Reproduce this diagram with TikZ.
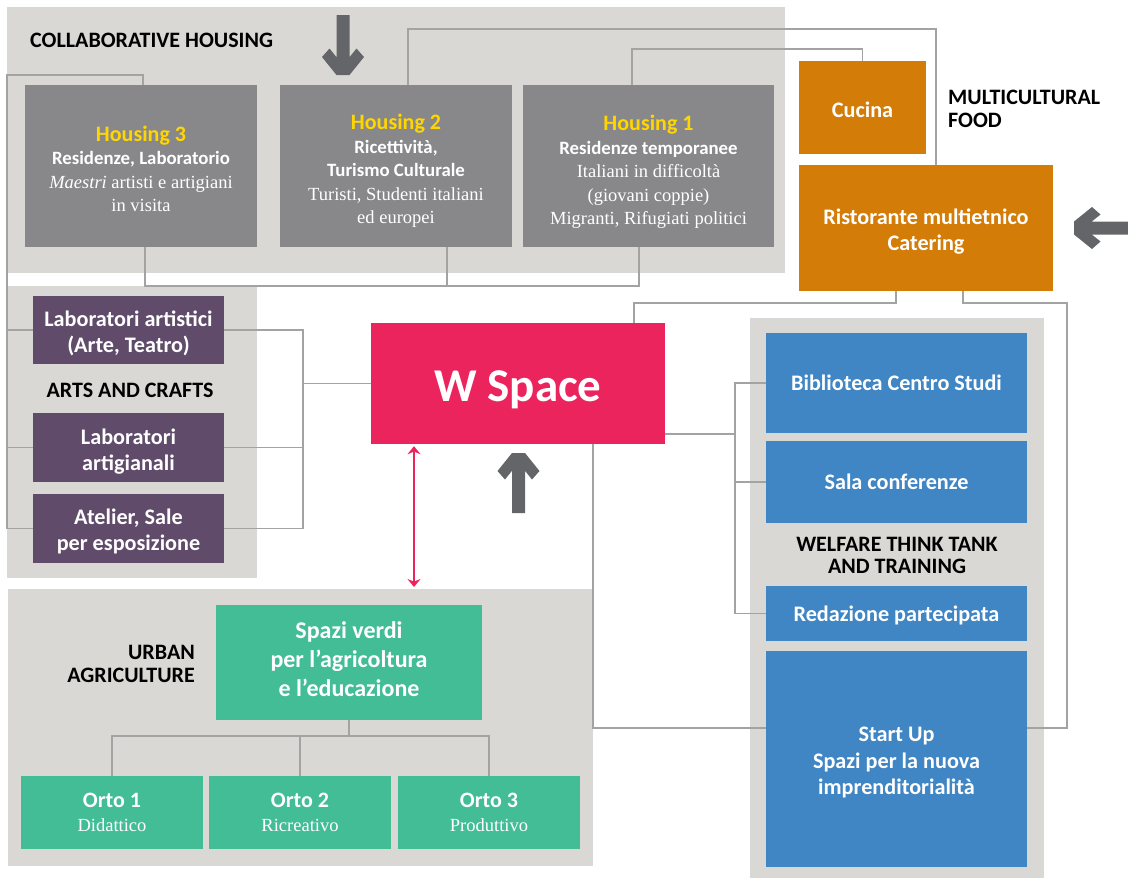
\documentclass[tikz,border=0pt]{standalone}
\usepackage{fontspec}
\setmainfont{Liberation Serif}
\setsansfont{Carlito}
\usetikzlibrary{arrows.meta, positioning}

\definecolor{panelgray}{RGB}{217,216,212}
\definecolor{hgray}{RGB}{136,136,138}
\definecolor{hyellow}{RGB}{255,214,0}
\definecolor{foodorange}{RGB}{211,124,7}
\definecolor{wpink}{RGB}{236,36,94}
\definecolor{artpurple}{RGB}{96,76,106}
\definecolor{thinkblue}{RGB}{64,134,196}
\definecolor{agrgreen}{RGB}{66,189,149}
\definecolor{arrowgray}{RGB}{100,101,105}
\definecolor{linegray}{RGB}{163,163,163}

\newcommand{\hhead}[1]{{\sffamily\bfseries\fontsize{22}{23.5}\selectfont\color{hyellow}#1}}
\newcommand{\hbold}[1]{{\sffamily\bfseries\fontsize{18.8}{23.5}\selectfont #1}}

\begin{document}
\begin{tikzpicture}[x=1pt, y=-1pt,
	box/.style={rectangle, inner sep=0pt, text=white, align=center, text depth=0pt},
	lbl/.style={font=\sffamily\bfseries\fontsize{22.2}{26}\selectfont},
	serif/.style={font=\fontsize{18.5}{23.5}\selectfont},
	heading/.style={font=\sffamily\bfseries\fontsize{22}{22.5}\selectfont, inner sep=0pt, align=center},
	link/.style={draw=linegray, line width=1.6pt},
	fatarrow/.pic={\fill[arrowgray] (6.5,0) -- (21,18) -- (13.5,26.5) -- (6.5,17.8) -- (6.5,60) -- (-6.5,60) -- (-6.5,17.8) -- (-13.5,26.5) -- (-21,18) -- (-6.5,0) -- cycle;}]
	\useasboundingbox (0,0) rectangle (1128,879);
	
	% panels
	\fill[panelgray] (7,7) rectangle (785,273);
	\fill[panelgray] (7,286) rectangle (257,578);
	\fill[panelgray] (8,589) rectangle (593,866);
	\fill[panelgray] (750,318) rectangle (1044,878);
	
	% headings
	\node[heading, anchor=west] (chtitle) at (30,40) {COLLABORATIVE HOUSING};
	\node[heading, anchor=west, align=left] (mftitle) at (948,109) {MULTICULTURAL\\FOOD};
	\node[heading] (actitle) at (130,390) {ARTS AND CRAFTS};
	\node[heading, anchor=east, align=right] (uatitle) at (195,664) {URBAN\\AGRICULTURE};
	\node[heading] (wttitle) at (897,555.5) {WELFARE THINK TANK\\AND TRAINING};
	
	% collaborative housing
	\node[box, serif, fill=hgray, minimum width=232pt, minimum height=162pt, text height=91.5pt] (h3) at (141,166)
		{\hhead{Housing 3}\\ \hbold{Residenze, Laboratorio}\\ \textit{Maestri} artisti e artigiani\\ in visita};
	\node[box, serif, fill=hgray, minimum width=232pt, minimum height=162pt, text height=115pt] (h2) at (396,166)
		{\hhead{Housing 2}\\ \hbold{Ricettività,}\\ \hbold{Turismo Culturale}\\ Turisti, Studenti italiani\\ ed europei};
	\node[box, serif, fill=hgray, minimum width=251pt, minimum height=162pt, text height=117pt] (h1) at (648.5,166)
		{\hhead{Housing 1}\\ \hbold{Residenze temporanee}\\ Italiani in difficoltà\\ (giovani coppie)\\ Migranti, Rifugiati politici};
	
	% multicultural food
	\node[box, lbl, fill=foodorange, minimum width=127pt, minimum height=93pt, text height=19.5pt] (cucina) at (862.5,107.5) {Cucina};
	\node[box, lbl, fill=foodorange, minimum width=254pt, minimum height=126pt, text height=45.5pt] (rist) at (926,228) {Ristorante multietnico\\Catering};
	
	% centre
	\node[box, fill=wpink, minimum width=294pt, minimum height=121pt, text height=36pt, font=\sffamily\bfseries\fontsize{47}{50}\selectfont] (wspace) at (518,383.5) {W Space};
	
	% arts and crafts
	\node[box, lbl, fill=artpurple, minimum width=191pt, minimum height=68pt, text height=45.5pt] (lab1) at (128.5,330) {Laboratori artistici\\(Arte, Teatro)};
	\node[box, lbl, fill=artpurple, minimum width=191pt, minimum height=69pt, text height=45.5pt] (lab2) at (128.5,447.5) {Laboratori\\artigianali};
	\node[box, lbl, fill=artpurple, minimum width=191pt, minimum height=69pt, text height=44.5pt] (atelier) at (128.5,528.5) {Atelier, Sale\\per esposizione};
	
	% welfare think tank
	\node[box, lbl, fill=thinkblue, minimum width=261pt, minimum height=100pt] (bib) at (896.5,383) {Biblioteca Centro Studi};
	\node[box, lbl, fill=thinkblue, minimum width=261pt, minimum height=82pt] (sala) at (896.5,482) {Sala conferenze};
	\node[box, lbl, fill=thinkblue, minimum width=261pt, minimum height=55pt] (redaz) at (896.5,613.5) {Redazione partecipata};
	\node[box, fill=thinkblue, minimum width=261pt, minimum height=216pt, text height=71.5pt, font=\sffamily\bfseries\fontsize{22.2}{26.5}\selectfont] (startup) at (896.5,759) {Start Up\\Spazi per la nuova\\imprenditorialità};
	
	% urban agriculture
	\node[box, fill=agrgreen, minimum width=266pt, minimum height=115pt, text depth=6pt, font=\sffamily\bfseries\fontsize{24}{29}\selectfont] (spazi) at (349,662.5) {Spazi verdi\\per l’agricoltura\\e l’educazione};
	\node[box, serif, fill=agrgreen, minimum width=182pt, minimum height=73pt] (orto1) at (112,812.5) {\hbold{\fontsize{22}{24}\selectfont Orto 1}\\ Didattico};
	\node[box, serif, fill=agrgreen, minimum width=182pt, minimum height=73pt] (orto2) at (300,812.5) {\hbold{\fontsize{22}{24}\selectfont Orto 2}\\ Ricreativo};
	\node[box, serif, fill=agrgreen, minimum width=182pt, minimum height=73pt] (orto3) at (489,812.5) {\hbold{\fontsize{22}{24}\selectfont Orto 3}\\ Produttivo};
	
	% connectors
	\coordinate (busL) at (7,75);
	\draw[link] ([xshift=2pt]h3.north) |- (busL) |- (atelier.west);
	\draw[link] (busL |- lab1.west) -- (lab1.west);
	\draw[link] (busL |- lab2.west) -- (lab2.west);
	\draw[link] ([xshift=12pt]h2.north) -- ++(0,-56) -| ([xshift=10pt]rist.north);
	\draw[link] ([xshift=-16.5pt]h1.north) -- ++(0,-36) -| (cucina.north);
	\draw[link] ([xshift=4pt]h3.south) -- ++(0,39) -| ([xshift=-9.5pt]h1.south);
	\draw[link] ([xshift=51pt]h2.south) -- ++(0,39);
	
	\draw[link] ([xshift=-30pt]rist.south) -- ++(0,12) -| ([xshift=116pt]wspace.north);
	\coordinate (ru) at (1067,728);
	\draw[link] ([xshift=37pt]rist.south) -- ++(0,12) -| (ru) -- (ru -| startup.east);
	\coordinate (wl) at (593,728);
	\draw[link] (wspace.south -| wl) -- (wl) -- (wl -| startup.west);
	
	\coordinate (ab) at (303,383.5);
	\draw[link] (lab1.east) -| (ab) |- (atelier.east);
	\draw[link] (lab2.east) -- (lab2.east -| ab);
	\draw[link] (ab) -- (wspace.west);
	
	\coordinate (wb) at (735,434);
	\draw[link] (wspace.east |- wb) -- (wb);
	\draw[link] (bib.west) -| (wb) |- (redaz.west);
	\draw[link] (sala.west) -- (sala.west -| wb);
	
	\coordinate (st) at (349,736);
	\draw[link] (spazi.south) -- (st);
	\draw[link] (orto1.north) |- (st) -| (orto3.north);
	\draw[link] (orto2.north) -- (orto2.north |- st);
	
	\coordinate (ua) at (414,587);
	\draw[wpink, line width=1.5pt, {Stealth[length=8pt,width=13pt]}-{Stealth[length=8pt,width=13pt]}] ([xshift=-104pt]wspace.south) ++(0,2) -- (ua);
	
	% big arrows
	\pic at (518.5,453) {fatarrow};
	\pic[rotate=180] at (343,75) {fatarrow};
	\pic[rotate=90] at (1074,228) {fatarrow};
\end{tikzpicture}
\end{document}
